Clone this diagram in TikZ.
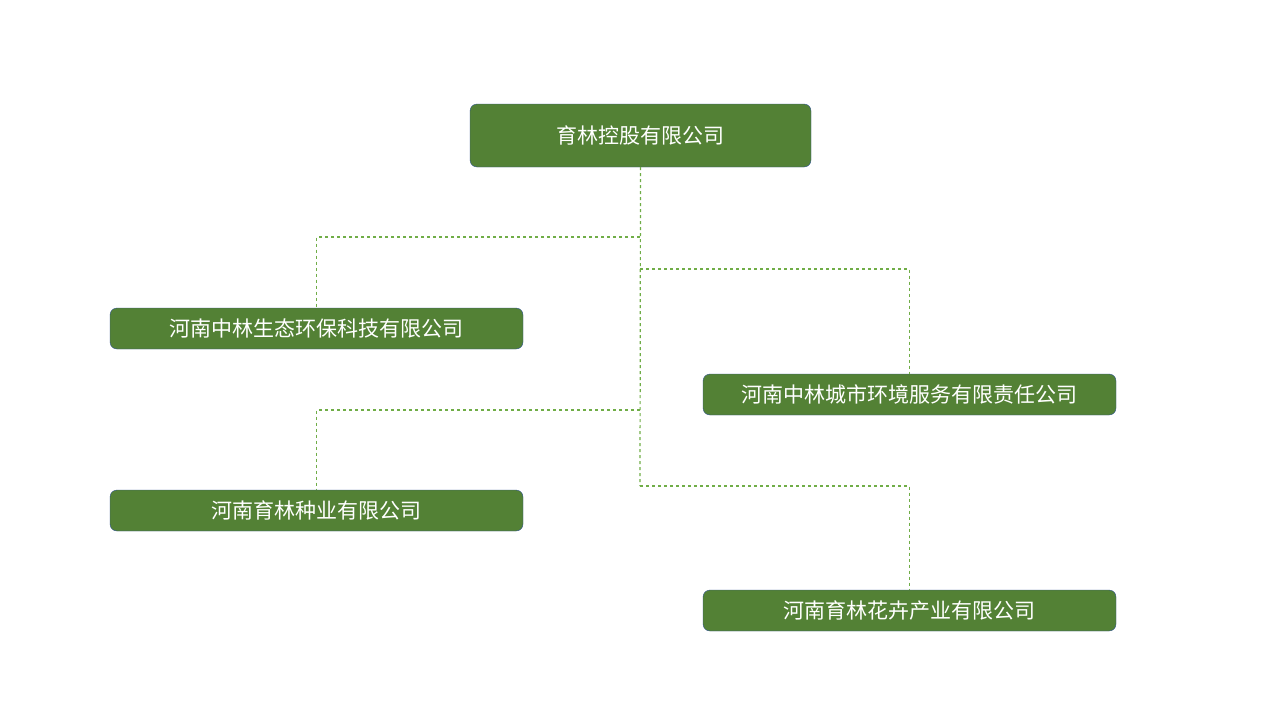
\documentclass[tikz,border=0pt]{standalone}
\usepackage{fontspec}
\newfontfamily\cjk{Noto Sans CJK SC}
\definecolor{boxg}{HTML}{538135}
\definecolor{boxb}{HTML}{2F528F}
\definecolor{lineg}{HTML}{70AD47}
\begin{document}
\begin{tikzpicture}[x=1pt,y=-1pt,
  box/.style={draw=boxb,fill=boxg,rounded corners=7pt,text=white,font=\cjk\fontsize{21}{24}\selectfont,inner sep=0pt},
  conn/.style={draw=lineg,dashed,line width=1.2pt}]
\useasboundingbox (0,0) rectangle (1280,720);
\node[box,minimum width=341pt,minimum height=63pt] (top) at (640.5,135.5) {育林控股有限公司};
\node[box,minimum width=413pt,minimum height=41pt] (b1) at (316.5,328.5) {河南中林生态环保科技有限公司};
\node[box,minimum width=413pt,minimum height=41pt] (b2) at (909.5,394.5) {河南中林城市环境服务有限责任公司};
\node[box,minimum width=413pt,minimum height=41pt] (b3) at (316.5,510.5) {河南育林种业有限公司};
\node[box,minimum width=413pt,minimum height=41pt] (b4) at (909.5,610.5) {河南育林花卉产业有限公司};
\coordinate (t) at (640,486);
\draw[conn] (top.south) -- (t);
\draw[conn] (640,237) -| (b1.north);
\draw[conn] (640,269) -| (b2.north);
\draw[conn] (640,410) -| (b3.north);
\draw[conn] (t) -| (b4.north);
\end{tikzpicture}
\end{document}
